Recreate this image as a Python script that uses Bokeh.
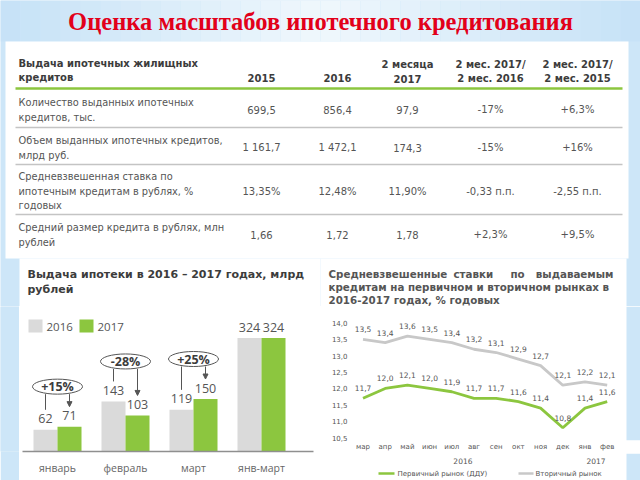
import json
from bokeh.plotting import figure
from bokeh.models import Range1d, LinearAxis, FixedTicker, Arrow, NormalHead, CustomJSTickFormatter
from bokeh.layouts import column, row
from bokeh.core.properties import value
from bokeh.embed import file_html
from bokeh.resources import INLINE

# ---------------- data ----------------
title_text = "Оценка масштабов ипотечного кредитования"

table_title = ["Выдача ипотечных жилищных", "кредитов"]
col_headers = [["2015"], ["2016"], ["2 месяца", "2017"],
               ["2 мес. 2017/", "2 мес. 2016"], ["2 мес. 2017/", "2 мес. 2015"]]
row_labels = [
    ["Количество выданных ипотечных", "кредитов, тыс."],
    ["Объем выданных ипотечных кредитов,", "млрд руб."],
    ["Средневзвешенная ставка по", "ипотечным кредитам в рублях, %", "годовых"],
    ["Средний размер кредита в рублях, млн", "рублей"],
]
col_2015 = ["699,5", "1 161,7", "13,35%", "1,66"]
col_2016 = ["856,4", "1 472,1", "12,48%", "1,72"]
col_2m_2017 = ["97,9", "174,3", "11,90%", "1,78"]
col_vs_2016 = ["-17%", "-15%", "-0,33 п.п.", "+2,3%"]
col_vs_2015 = ["+6,3%", "+16%", "-2,55 п.п.", "+9,5%"]

bar_title = ["Выдача ипотеки в 2016 – 2017 годах, млрд", "рублей"]
bar_series = ["2016", "2017"]
bar_months = ["январь", "февраль", "март", "янв-март"]
issued_2016 = [62, 143, 119, 324]
issued_2017 = [71, 103, 150, 324]
changes = ["+15%", "-28%", "+25%"]

rate_title_1 = ["Средневзвешенные", "ставки", "по", "выдаваемым"]
rate_title_2 = "кредитам на первичном и вторичном рынках в"
rate_title_3 = "2016-2017 годах, % годовых"
rate_months = ["мар", "апр", "май", "июн", "июл", "авг", "сен", "окт", "ноя", "дек", "янв", "фев"]
rate_month_year = ["2016"] * 10 + ["2017"] * 2
rate_primary = [11.7, 12.0, 12.1, 12.0, 11.9, 11.7, 11.7, 11.6, 11.4, 10.8, 11.4, 11.6]
rate_secondary = [13.5, 13.4, 13.6, 13.5, 13.4, 13.2, 13.1, 12.9, 12.7, 12.1, 12.2, 12.1]
rate_ticks = [10.5, 11.0, 11.5, 12.0, 12.5, 13.0, 13.5, 14.0]
rate_series = ["Первичный рынок (ДДУ)", "Вторичный рынок"]

# ---------------- styles ----------------
BG = "#cde6f8"
WHITE = "#ffffff"
GRAY_BAR = "#dadada"
GREEN = "#8cc63f"
GRAY_LINE = "#c8c8c8"
DARK = "#3c3c3c"
TEXT = "#555555"
SANS = "DejaVu Sans"
OPEN = "Open Sans"


def canvas(x0, x1, y0, y1, bl=0, bb=0, bg=BG, border=BG):
    """Figure covering page box x0..x1, y0..y1; default ranges are page pixels."""
    p = figure(width=x1 - x0, height=y1 - y0,
               x_range=Range1d(x0 + bl, x1), y_range=Range1d(y1 - bb, y0),
               x_axis_type=None, y_axis_type=None,
               toolbar_location=None, output_backend="svg",
               min_border_left=bl, min_border_bottom=bb,
               min_border_right=0, min_border_top=0,
               background_fill_color=bg, border_fill_color=border,
               outline_line_color=None)
    return p


def txt(p, xs, ys, texts, size, color=TEXT, font=SANS, style="normal",
        align="left", baseline="middle", **kw):
    p.text(x=xs, y=ys, text=texts, text_font=value(font), text_font_size=size,
           text_font_style=style, text_color=color, text_align=align,
           text_baseline=baseline, **kw)


SPLIT = 306   # page y where the chart figures begin

# ================= top: title, table, chart titles =================
top = canvas(0, 640, 0, SPLIT)
steps = 32
for k in range(steps):
    f = abs((k + 0.5) / steps - 0.5) * 2
    r = int(240 - 42 * f); g = int(248 - 22 * f); b = int(253 - 6 * f)
    top.quad(left=[k * 640 / steps], right=[(k + 1) * 640 / steps],
             top=[0], bottom=[41], fill_color=f"#{r:02x}{g:02x}{b:02x}", line_color=None)
top.quad(left=[5, 19, 320], right=[628, 320, 626], top=[41, 258, 258],
         bottom=[258, SPLIT, SPLIT], fill_color=WHITE, line_color=None)
txt(top, [320], [21], [title_text], "24.5px", color="#e2001a",
    font="Liberation Serif", style="bold", align="center")

txt(top, [18, 18], [63, 77], table_title, "10px", color=DARK, style="bold")
col_x = [261, 337, 407, 490, 577]
for cx, hdr in zip(col_x, col_headers):
    ys = [77] if len(hdr) == 1 else [64, 78]
    txt(top, [cx] * len(hdr), ys, hdr, "10px", color=DARK, style="bold", align="center")

top.segment(x0=[15], y0=[88], x1=[622], y1=[88], line_color=GREEN, line_width=2.5)
sep_y = [127, 164, 214]
top.segment(x0=[15] * 3, y0=sep_y, x1=[622] * 3, y1=sep_y, line_color="#c4c4c4", line_width=1.3)

row_top = [102, 140, 176, 227]
LINE_H = 14.5
columns = [col_2015, col_2016, col_2m_2017, col_vs_2016, col_vs_2015]
for r, lines in enumerate(row_labels):
    ys = [row_top[r] + LINE_H * j for j in range(len(lines))]
    txt(top, [18] * len(lines), ys, lines, "9.8px")
    yc = row_top[r] + LINE_H * (len(lines) - 1) / 2
    txt(top, col_x, [yc] * 5, [c[r] for c in columns], "10px", align="center")

# bar chart title
txt(top, [27, 27], [274, 289], bar_title, "11px", color=DARK, style="bold")
# rates chart title (first line justified)
TS = "10.3px"
txt(top, [328, 453, 510], [273] * 3, rate_title_1[:3], TS, color=TEXT, style="bold")
txt(top, [613], [273], rate_title_1[3:], TS, color=TEXT, style="bold", align="right")
txt(top, [328, 328], [286, 299], [rate_title_2, rate_title_3], TS, color=TEXT, style="bold")

# ================= bottom-left: bar chart =================
strip = canvas(0, 19, SPLIT, 480)
strip.quad(left=[0], right=[19], top=[SPLIT], bottom=[480], fill_color=BG, line_color=None)

GX0, GDX = 57.0, 68.0        # page x of first group, spacing
BASE, PXU = 451.0, 0.35      # page y of zero, px per unit
bar = canvas(19, 320, SPLIT, 480, bb=480 - int(BASE), bg=WHITE, border=WHITE)
bar.extra_x_ranges = {"grp": Range1d((19 - GX0) / GDX, (320 - GX0) / GDX)}
bar.extra_y_ranges = {"val": Range1d(0, (BASE - SPLIT) / PXU)}

bar.quad(left=[28, 79], right=[42, 93], top=[319, 319], bottom=[332, 332],
         fill_color=[GRAY_BAR, GREEN], line_color=None)
txt(bar, [46, 97], [326, 326], bar_series, "11.5px", font=OPEN)

idx = list(range(len(bar_months)))
off = 12 / GDX
bw = 24 / GDX
x16 = [i - off for i in idx]
x17 = [i + off for i in idx]
bar.vbar(x=x16, top=issued_2016, bottom=0, width=bw, fill_color=GRAY_BAR, line_color=None,
         x_range_name="grp", y_range_name="val")
bar.vbar(x=x17, top=issued_2017, bottom=0, width=bw, fill_color=GREEN, line_color=None,
         x_range_name="grp", y_range_name="val")
bar.text(x=x16 + x17, y=issued_2016 + issued_2017,
         text=[str(v) for v in issued_2016 + issued_2017],
         x_range_name="grp", y_range_name="val", y_offset=-11,
         text_align="center", text_baseline="middle", text_font=value(OPEN),
         text_font_size="12.5px", text_color=TEXT)

xa = LinearAxis(x_range_name="grp", y_range_name="val",
                ticker=FixedTicker(ticks=idx),
                formatter=CustomJSTickFormatter(
                    code="const n = %s; return n[Math.round(tick)] || '';"
                    % json.dumps(bar_months, ensure_ascii=False)),
                bounds=((22 - GX0) / GDX, (313 - GX0) / GDX),
                axis_line_color="#8f8f8f", axis_line_width=1.5,
                major_tick_out=0, major_tick_in=0, major_tick_line_color=None,
                minor_tick_line_color=None, major_label_standoff=9,
                major_label_text_font=OPEN, major_label_text_font_size="10.5px",
                major_label_text_color="#666666")
bar.add_layout(xa, "below")


def gx(i):
    return GX0 + GDX * i


def vy(v):
    return BASE - PXU * v


EW, EH = 50, 15
ex, ey = [], []
for i, ch in enumerate(changes):
    cx = gx(i)
    cy = vy(max(issued_2016[i], issued_2017[i])) - 40
    ex.append(cx); ey.append(cy)
    bar.segment(x0=[cx - 12], y0=[cy + EH / 2], x1=[cx - 12], y1=[vy(issued_2016[i]) - 20],
                line_color="#555555", line_width=1)
    bar.add_layout(Arrow(end=NormalHead(size=5, fill_color="#555555", line_color="#555555"),
                         x_start=cx + 12, y_start=cy + EH / 2,
                         x_end=cx + 12, y_end=vy(issued_2017[i]) - 20,
                         line_color="#555555", line_width=1))
bar.ellipse(x=ex, y=ey, width=EW, height=EH, fill_color=WHITE, line_color="#555555", line_width=1)
txt(bar, ex, ey, changes, "12.5px", color=DARK, font=OPEN, style="bold", align="center")

# ================= bottom-right: rates line chart =================
MX0, MDX = 362.5, 22.2        # page x of first month, spacing
RY14, RPX = 322.7, 32.95      # page y of 14.0, px per percentage point
FR_L, FR_B = 350, 441

ln = canvas(320, 640, SPLIT, 453, bl=FR_L - 320, bb=453 - FR_B, bg=WHITE, border=WHITE)
ln.quad(left=[626], right=[640], top=[SPLIT], bottom=[FR_B], fill_color=BG, line_color=None)
ln.extra_x_ranges = {"mon": Range1d((FR_L - MX0) / MDX, (640 - MX0) / MDX)}
ln.extra_y_ranges = {"rate": Range1d(14 - (FR_B - RY14) / RPX, 14 - (SPLIT - RY14) / RPX)}

midx = list(range(len(rate_months)))
ln.line(midx, rate_secondary, line_color=GRAY_LINE, line_width=2.8,
        x_range_name="mon", y_range_name="rate")
ln.line(midx, rate_primary, line_color=GREEN, line_width=2.8,
        x_range_name="mon", y_range_name="rate")


def fmt(v):
    return f"{v:.1f}".replace(".", ",")


for series in (rate_secondary, rate_primary):
    ln.text(x=midx, y=series, text=[fmt(v) for v in series],
            x_range_name="mon", y_range_name="rate", y_offset=-10,
            text_align="center", text_baseline="middle", text_font=value(SANS),
            text_font_size="7.5px", text_color=TEXT)

ya = LinearAxis(y_range_name="rate",
                ticker=FixedTicker(ticks=rate_ticks),
                formatter=CustomJSTickFormatter(code="return tick.toFixed(1).replace('.', ',');"),
                axis_line_color=None, major_tick_out=0, major_tick_in=0,
                major_tick_line_color=None, minor_tick_line_color=None,
                major_label_standoff=3, major_label_text_font=SANS,
                major_label_text_font_size="7px", major_label_text_color=TEXT)
ln.add_layout(ya, "left")

xb = LinearAxis(x_range_name="mon",
                ticker=FixedTicker(ticks=midx),
                formatter=CustomJSTickFormatter(
                    code="const n = %s; return n[Math.round(tick)] || '';"
                    % json.dumps(rate_months, ensure_ascii=False)),
                axis_line_color=None, major_tick_out=0, major_tick_in=0,
                major_tick_line_color=None, minor_tick_line_color=None,
                major_label_standoff=2, major_label_text_font=SANS,
                major_label_text_font_size="7px", major_label_text_color=TEXT)
ln.add_layout(xb, "below")

# year group labels + legend (same frame alignment as the chart above)
lg = canvas(320, 640, 453, 480, bl=FR_L - 320, bg=WHITE, border=WHITE)
lg.quad(left=[626], right=[640], top=[453], bottom=[480], fill_color=BG, line_color=None)
lg.extra_x_ranges = {"mon": Range1d((FR_L - MX0) / MDX, (640 - MX0) / MDX)}
years = sorted(set(rate_month_year))
year_x = [sum(i for i, y in enumerate(rate_month_year) if y == yr) /
          rate_month_year.count(yr) for yr in years]
lg.text(x=year_x, y=[460] * len(years), text=years, x_range_name="mon",
        text_align="center", text_baseline="middle", text_font=value(SANS),
        text_font_size="7.5px", text_color=TEXT)
lg.segment(x0=[378, 518], y0=[473, 473], x1=[394, 533], y1=[473, 473],
           line_color=[GREEN, GRAY_LINE], line_width=2.5)
txt(lg, [397, 535], [473, 473], rate_series, "7px")

layout = column(top,
                row(strip, bar, column(ln, lg, spacing=0), spacing=0),
                spacing=0)
open("out.html", "w").write(file_html(layout, INLINE))
